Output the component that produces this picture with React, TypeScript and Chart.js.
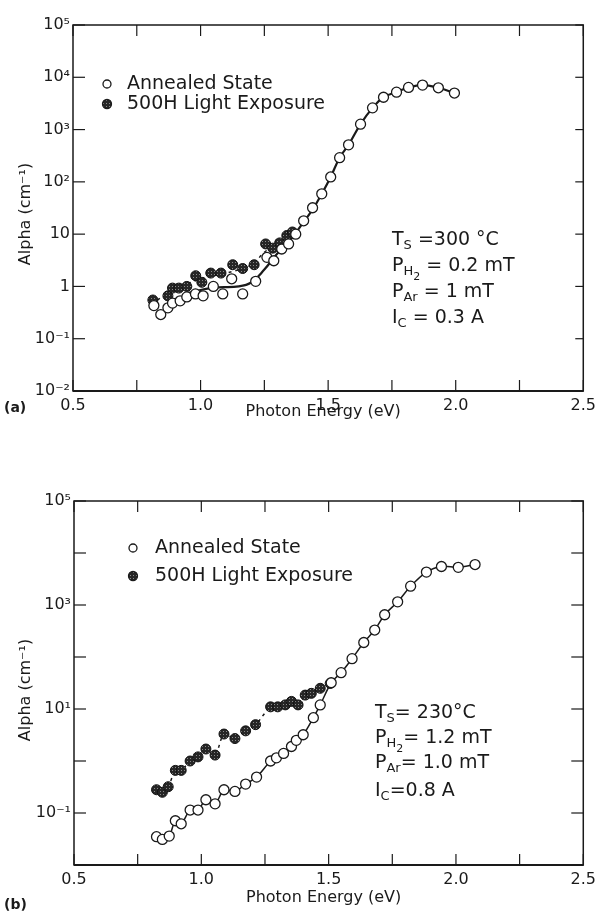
import { useEffect, useRef } from 'react';
import { Chart, registerables } from 'chart.js';
Chart.register(...registerables);

const FONT = '"DejaVu Sans", sans-serif';
const INK = '#1a1a1a';

// ---- axis ticks ----
const xTickValues = [0.5, 0.75, 1.0, 1.25, 1.5, 1.75, 2.0, 2.25, 2.5];
const xTickLabels = ['0.5', '', '1.0', '', '1.5', '', '2.0', '', '2.5'];
const yTickValues = [0.01, 0.1, 1, 10, 100, 1000, 10000, 100000];
const yTickLabelsA = ['10⁻²', '10⁻¹', '1', '10', '10²', '10³', '10⁴', '10⁵'];
const yTickLabelsB = ['', '10⁻¹', '', '10¹', '', '10³', '', '10⁵'];

// ---- panel (a) ----
const energyAnnealedA = [0.817, 0.844, 0.872, 0.89, 0.92, 0.946, 0.98, 1.01, 1.05, 1.087, 1.122, 1.165, 1.216, 1.26, 1.287, 1.318, 1.345, 1.373, 1.404, 1.439, 1.475, 1.51, 1.545, 1.58, 1.627, 1.674, 1.717, 1.768, 1.815, 1.87, 1.932, 1.995];
const alphaAnnealedA = [0.43, 0.29, 0.39, 0.48, 0.53, 0.63, 0.72, 0.66, 1.0, 0.72, 1.4, 0.72, 1.25, 3.6, 3.1, 5.2, 6.5, 10, 18, 32, 59, 124, 290, 510, 1270, 2600, 4150, 5200, 6400, 7100, 6300, 5000];
const energyExposedA = [0.813, 0.872, 0.89, 0.915, 0.946, 0.981, 1.005, 1.04, 1.08, 1.126, 1.165, 1.21, 1.255, 1.283, 1.31, 1.338, 1.36];
const alphaExposedA = [0.55, 0.66, 0.93, 0.93, 1.0, 1.6, 1.2, 1.8, 1.8, 2.6, 2.2, 2.6, 6.5, 5.4, 6.8, 9.4, 11];
const fitEnergyA = [0.95, 1.05, 1.15, 1.2, 1.25, 1.3, 1.35, 1.4, 1.44, 1.475, 1.51, 1.545, 1.58, 1.627, 1.674, 1.717, 1.768, 1.815, 1.87, 1.932, 1.995];
const fitAlphaA = [0.75, 0.95, 1.0, 1.2, 2.1, 4.2, 7.5, 16, 30, 59, 124, 290, 510, 1270, 2600, 4150, 5200, 6400, 7100, 6300, 5000];
const dashEnergyA = [0.83, 0.9, 1.0, 1.1, 1.2, 1.25, 1.3, 1.35];
const dashAlphaA = [0.55, 0.85, 1.4, 1.8, 2.6, 4.5, 6.5, 9.5];

// ---- panel (b) ----
const energyAnnealedB = [0.824, 0.847, 0.874, 0.898, 0.921, 0.956, 0.987, 1.018, 1.054, 1.089, 1.132, 1.174, 1.217, 1.272, 1.295, 1.323, 1.354, 1.373, 1.4, 1.44, 1.467, 1.51, 1.549, 1.592, 1.638, 1.681, 1.72, 1.771, 1.822, 1.884, 1.943, 2.009, 2.075];
const alphaAnnealedB = [0.035, 0.031, 0.036, 0.071, 0.062, 0.114, 0.114, 0.18, 0.15, 0.28, 0.26, 0.36, 0.49, 1.0, 1.15, 1.4, 1.9, 2.5, 3.2, 6.8, 12, 32, 50, 93, 190, 330, 650, 1150, 2300, 4300, 5500, 5300, 6000];
const energyExposedB = [0.824, 0.847, 0.87, 0.898, 0.921, 0.956, 0.987, 1.018, 1.054, 1.089, 1.132, 1.174, 1.213, 1.272, 1.3, 1.33, 1.354, 1.38, 1.408, 1.432, 1.467, 1.506];
const alphaExposedB = [0.28, 0.25, 0.32, 0.66, 0.66, 1.0, 1.2, 1.7, 1.3, 3.3, 2.7, 3.8, 5, 11, 11, 12, 14, 12, 18.5, 20, 25, 31];

const legendAnnealed = 'Annealed State';
const legendExposed = '500H Light Exposure';
const panelA = '(a)';
const panelB = '(b)';
const xTitle = 'Photon Energy (eV)';
const yTitle = 'Alpha (cm⁻¹)';

type Part = [string, number]; // text, level (0 normal, 1 sub, 2 subsub)
const paramsA: Part[][] = [
  [['T', 0], ['S', 1], [' =300 °C', 0]],
  [['P', 0], ['H', 1], ['2', 2], [' = 0.2 mT', 0]],
  [['P', 0], ['Ar', 1], [' = 1 mT', 0]],
  [['I', 0], ['C', 1], [' = 0.3 A', 0]],
];
const paramsB: Part[][] = [
  [['T', 0], ['S', 1], ['= 230°C', 0]],
  [['P', 0], ['H', 1], ['2', 2], ['= 1.2 mT', 0]],
  [['P', 0], ['Ar', 1], ['= 1.0 mT', 0]],
  [['I', 0], ['C', 1], ['=0.8 A', 0]],
];

const pts = (xs: number[], ys: number[]) => xs.map((x, i) => ({ x, y: ys[i] }));

function makePattern(ctx: CanvasRenderingContext2D) {
  const c = document.createElement('canvas');
  c.width = 3; c.height = 3;
  const g = c.getContext('2d')!;
  g.fillStyle = '#262626';
  g.fillRect(0, 0, 3, 3);
  g.fillStyle = '#8a8a8a';
  g.fillRect(1, 1, 1, 1);
  return ctx.createPattern(c, 'repeat') || '#333';
}

interface Spec {
  yLabels: string[];
  padTop: number; padRight: number; yWidth: number; xHeight: number;
  datasets: any[];
  legend: { cx: number; y1: number; y2: number; tx: number };
  params: { x: number; ys: number[]; lines: Part[][] };
  xTitleY: number; yTitleY: number; panel: string; panelY: number;
  tickRight: number;
}

function drawParts(ctx: CanvasRenderingContext2D, x: number, y: number, parts: Part[]) {
  let cx = x;
  for (const [t, lvl] of parts) {
    const size = lvl === 0 ? 19 : lvl === 1 ? 13 : 11;
    const dy = lvl === 0 ? 0 : lvl === 1 ? 6 : 11;
    ctx.font = `${size}px ${FONT}`;
    ctx.textBaseline = 'middle';
    ctx.textAlign = 'left';
    ctx.fillText(t, cx, y + dy);
    cx += ctx.measureText(t).width;
  }
}

function build(canvas: HTMLCanvasElement, spec: Spec) {
  const ctx = canvas.getContext('2d')!;
  const pattern = makePattern(ctx);
  const datasets = spec.datasets.map((d) => (d.filled ? { ...d, pointBackgroundColor: pattern } : d));
  const framePlugin = {
    id: 'frame',
    afterDraw(chart: any) {
      const c = chart.ctx as CanvasRenderingContext2D;
      const { left, right, top, bottom } = chart.chartArea;
      const xs = chart.scales.x;
      const ys = chart.scales.y;
      c.save();
      c.strokeStyle = INK;
      c.lineWidth = 1.5;
      c.strokeRect(left, top, right - left, bottom - top);
      c.lineWidth = 2.2;
      c.beginPath(); c.moveTo(left, bottom); c.lineTo(right, bottom); c.stroke();
      c.lineWidth = 1.2;
      for (const t of xs.ticks) {
        const px = xs.getPixelForValue(t.value);
        c.beginPath(); c.moveTo(px, bottom); c.lineTo(px, bottom - 11); c.stroke();
        c.beginPath(); c.moveTo(px, top); c.lineTo(px, top + 11); c.stroke();
      }
      for (const t of ys.ticks) {
        const py = ys.getPixelForValue(t.value);
        c.beginPath(); c.moveTo(left, py); c.lineTo(left + 12, py); c.stroke();
        c.beginPath(); c.moveTo(right, py); c.lineTo(right - spec.tickRight, py); c.stroke();
      }
      // legend
      const L = spec.legend;
      c.lineWidth = 1.3;
      c.fillStyle = '#fff';
      c.beginPath(); c.arc(L.cx, L.y1, 4, 0, Math.PI * 2); c.fill(); c.stroke();
      c.fillStyle = pattern as any;
      c.beginPath(); c.arc(L.cx, L.y2, 4.5, 0, Math.PI * 2); c.fill(); c.stroke();
      c.fillStyle = INK;
      c.font = `19px ${FONT}`;
      c.textAlign = 'left';
      c.textBaseline = 'middle';
      c.fillText(legendAnnealed, L.tx, L.y1);
      c.fillText(legendExposed, L.tx, L.y2);
      // params
      spec.params.lines.forEach((ln, i) => drawParts(c, spec.params.x, spec.params.ys[i], ln));
      // titles
      c.font = `16px ${FONT}`;
      c.textAlign = 'center';
      c.textBaseline = 'middle';
      c.fillText(xTitle, (left + right) / 2 - 5, spec.xTitleY);
      c.save();
      c.translate(26, spec.yTitleY);
      c.rotate(-Math.PI / 2);
      c.fillText(yTitle, 0, 0);
      c.restore();
      c.font = `bold 14px ${FONT}`;
      c.textAlign = 'left';
      c.fillText(spec.panel, 4, spec.panelY);
      c.restore();
    },
  };
  return new Chart(canvas, {
    type: 'scatter',
    data: { datasets },
    options: {
      animation: false,
      responsive: false,
      devicePixelRatio: 1,
      layout: { padding: { left: 0, right: spec.padRight, top: spec.padTop, bottom: 0 } },
      plugins: { legend: { display: false }, tooltip: { enabled: false } },
      scales: {
        x: {
          type: 'linear', min: 0.5, max: 2.5,
          afterBuildTicks: (a: any) => { a.ticks = xTickValues.map((v) => ({ value: v })); },
          afterFit: (a: any) => { a.height = spec.xHeight; },
          grid: { display: false, drawTicks: false },
          border: { display: false },
          ticks: {
            autoSkip: false, maxRotation: 0, padding: 5, color: INK,
            font: { family: FONT, size: 16 },
            callback: (_v: any, i: number) => xTickLabels[i],
          },
        },
        y: {
          type: 'logarithmic', min: 0.01, max: 100000,
          afterBuildTicks: (a: any) => { a.ticks = yTickValues.map((v) => ({ value: v })); },
          afterFit: (a: any) => { a.width = spec.yWidth; },
          grid: { display: false, drawTicks: false },
          border: { display: false },
          ticks: {
            autoSkip: false, padding: 3, color: INK,
            font: { family: FONT, size: 16 },
            callback: (_v: any, i: number) => spec.yLabels[i],
          },
        },
      },
    },
    plugins: [framePlugin],
  } as any);
}

const openStyle = { pointRadius: 5, pointBorderColor: INK, pointBorderWidth: 1.3, pointBackgroundColor: '#fff', showLine: false };
const filledStyle = { pointRadius: 5, pointBorderColor: '#111', pointBorderWidth: 1, showLine: false, filled: true };

export default function App() {
  const refA = useRef<HTMLCanvasElement>(null);
  const refB = useRef<HTMLCanvasElement>(null);
  useEffect(() => {
    const a = build(refA.current!, {
      yLabels: yTickLabelsA, padTop: 25, padRight: 17, yWidth: 73, xHeight: 66,
      datasets: [
        { data: pts(energyAnnealedA, alphaAnnealedA), ...openStyle, order: 1 },
        { data: pts(energyExposedA, alphaExposedA), ...filledStyle, order: 2 },
        { data: pts(fitEnergyA, fitAlphaA), showLine: true, pointRadius: 0, borderColor: INK, borderWidth: 2.2, tension: 0.4, order: 5 },
        { data: pts(dashEnergyA, dashAlphaA), showLine: true, pointRadius: 0, borderColor: INK, borderWidth: 1.5, borderDash: [3, 4], tension: 0.4, order: 6 },
      ],
      legend: { cx: 107, y1: 84, y2: 104, tx: 127 },
      params: { x: 392, ys: [240, 266, 292, 318], lines: paramsA },
      xTitleY: 412, yTitleY: 214, panel: panelA, panelY: 408, tickRight: 8,
    });
    const b = build(refB.current!, {
      yLabels: yTickLabelsB, padTop: 44, padRight: 14, yWidth: 74, xHeight: 50,
      datasets: [
        { data: pts(energyAnnealedB, alphaAnnealedB), ...openStyle, showLine: true, borderColor: INK, borderWidth: 1.5, tension: 0.3, order: 1 },
        { data: pts(energyExposedB, alphaExposedB), ...filledStyle, showLine: true, borderColor: INK, borderWidth: 1.5, borderDash: [3, 4], tension: 0.3, order: 2 },
      ],
      legend: { cx: 133, y1: 91, y2: 119, tx: 155 },
      params: { x: 375, ys: [256, 281, 306, 334], lines: paramsB },
      xTitleY: 441, yTitleY: 233, panel: panelB, panelY: 448, tickRight: 12,
    });
    return () => { a.destroy(); b.destroy(); };
  }, []);
  return (
    <div style={{ position: 'absolute', left: 0, top: 0, width: 601, height: 915, background: '#fff' }}>
      <canvas ref={refA} width={601} height={457} style={{ display: 'block', width: 601, height: 457 }} />
      <canvas ref={refB} width={601} height={458} style={{ display: 'block', width: 601, height: 458 }} />
    </div>
  );
}
